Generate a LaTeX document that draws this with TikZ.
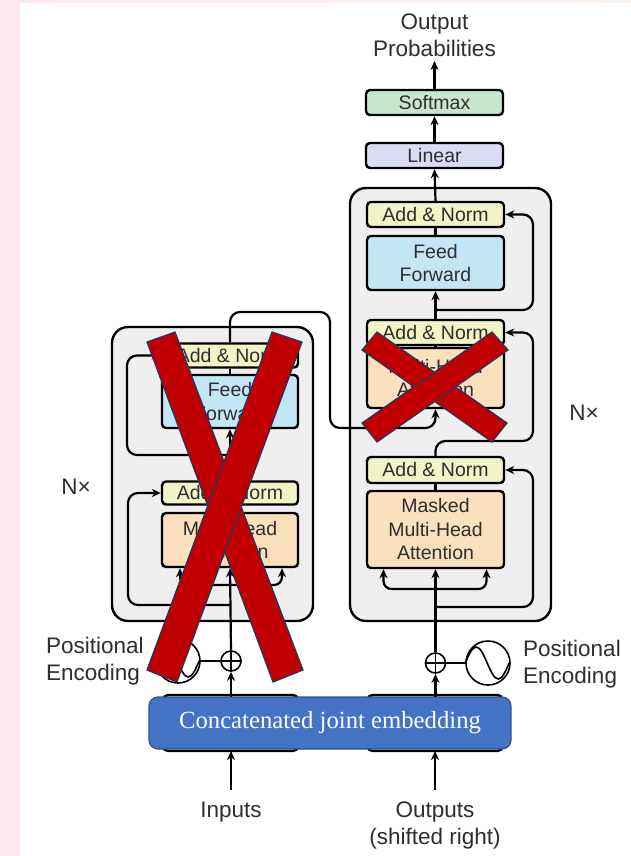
\documentclass[tikz,border=0pt]{standalone}
\usepackage{fontspec}
\setmainfont{Liberation Sans}
\newfontfamily\embfont{Liberation Serif}
\usetikzlibrary{arrows.meta}

\definecolor{txtgray}{HTML}{2E2E2E}
\definecolor{addnormfill}{HTML}{F2F4C6}
\definecolor{fffill}{HTML}{C3E6F4}
\definecolor{mhafill}{HTML}{FAE0BC}
\definecolor{linfill}{HTML}{DADDF2}
\definecolor{smfill}{HTML}{C8E6CD}
\definecolor{stackfill}{HTML}{EFEFEF}
\definecolor{jointblue}{HTML}{4472C4}
\definecolor{jointedge}{HTML}{2F528F}
\definecolor{crossred}{HTML}{C00000}
\definecolor{crossedge}{HTML}{1F3864}
\definecolor{sidepink}{HTML}{FCEAF0}
\definecolor{topcream}{HTML}{FCF3EA}

\newcommand{\boxfont}{\fontsize{19.5}{23.5}\selectfont}
\newcommand{\labfont}{\fontsize{22.5}{27}\selectfont}

\begin{document}
\begin{tikzpicture}[x=1pt,y=-1pt,
  blk/.style={draw=black, line width=2.4pt, rounded corners=4pt,
    minimum width=137pt, inner sep=0pt, align=center,
    text=txtgray, font=\boxfont},
  addnorm/.style={blk, fill=addnormfill, minimum height=25pt},
  ffwd/.style={blk, fill=fffill, minimum height=54pt},
  attn/.style={blk, fill=mhafill},
  stack/.style={draw=black, line width=2.4pt, rounded corners=16pt,
    fill=stackfill, minimum width=201pt, inner sep=0pt},
  embbox/.style={draw=black, line width=2.4pt, rounded corners=5pt,
    minimum width=135pt, minimum height=56pt, inner sep=0pt},
  conn/.style={draw=black, line width=2.2pt},
  arr/.style={conn, -{Stealth[length=9pt,width=8pt]}},
  plusnode/.style={circle, draw=black, line width=1.6pt, minimum size=20pt, inner sep=0pt},
  sinenode/.style={circle, draw=black, line width=1.6pt, minimum size=44pt, inner sep=0pt},
  lab/.style={text=txtgray, font=\labfont, inner sep=0pt},
  crossbar/.style={fill=crossred, draw=crossedge, line width=1.2pt, line join=miter}
]
\useasboundingbox (0,0) rectangle (631,856);

% page background
\fill[white] (0,0) rectangle (631,856);
\fill[sidepink] (0,0) rectangle (20,856);
\shade[left color=sidepink, right color=topcream] (20,0) rectangle (631,3);

% encoder and decoder stacks
\node[stack, minimum height=294pt] (enc) at (212.5,474) {};
\node[stack, minimum height=433pt] (dec) at (450.5,404.5) {};

% decoder blocks
\node[addnorm] (dan3) at (435.5,214.5) {Add \& Norm};
\node[ffwd] (dff) at (435.5,263) {Feed\\Forward};
\node[addnorm] (dan2) at (435.5,332.5) {Add \& Norm};
\node[attn, minimum height=60pt] (dmha) at (435.5,378) {Multi-Head\\Attention};
\node[addnorm, minimum height=26pt] (dan1) at (435.5,470) {Add \& Norm};
\node[attn, minimum height=77pt] (dmmha) at (435.5,529.5) {Masked\\Multi-Head\\Attention};

% output head
\node[blk, fill=linfill, minimum height=25pt] (linear) at (434.5,155.5) {Linear};
\node[blk, fill=smfill, minimum height=25pt] (softmax) at (434.5,102.5) {Softmax};
\node[lab, align=center] (outprob) at (434.5,35.5) {Output\\Probabilities};
\coordinate (outtip) at (434.5,61);

% encoder blocks
\node[addnorm, minimum height=24pt, minimum width=136pt] (ean2) at (230,355.5) {Add \& Norm};
\node[ffwd, minimum height=53pt, minimum width=136pt] (eff) at (230,401.5) {Feed\\Forward};
\node[addnorm, minimum height=23pt, minimum width=136pt] (ean1) at (230,493) {Add \& Norm};
\node[attn, minimum height=54pt, minimum width=136pt] (emha) at (230,540) {Multi-Head\\Attention};

% repeat labels
\node[lab] (encN) at (76,487) {N×};
\node[lab] (decN) at (584,413) {N×};

% positional encodings
\node[plusnode] (eplus) at (231,661) {};
\draw[line width=1.4pt] (eplus.north) -- (eplus.south) (eplus.west) -- (eplus.east);
\node[sinenode] (esin) at (178,661) {};
\draw[line width=1.6pt] (esin.west) sin ++(11,-16) cos ++(11,16) sin ++(11,16) cos ++(11,-16);
\draw[conn] (esin.east) -- (eplus.west);
\node[lab, anchor=west, align=left] (epos) at (46,661) {Positional\\Encoding};

\node[plusnode] (dplus) at (435.5,663) {};
\draw[line width=1.4pt] (dplus.north) -- (dplus.south) (dplus.west) -- (dplus.east);
\node[sinenode] (dsin) at (488,663) {};
\draw[line width=1.6pt] (dsin.west) sin ++(11,-16) cos ++(11,16) sin ++(11,16) cos ++(11,-16);
\draw[conn] (dplus.east) -- (dsin.west);
\node[lab, anchor=west, align=left] (dpos) at (523,664) {Positional\\Encoding};

% embeddings: original boxes with the joint embedding laid over them
\node[embbox] (einemb) at (230.5,723) {};
\node[embbox] (doutemb) at (435,723) {};
\node[draw=jointedge, line width=1.2pt, fill=jointblue, rounded corners=9pt,
  minimum width=362pt, minimum height=52pt, inner sep=0pt,
  text=white, font=\embfont\fontsize{24.7}{28}\selectfont] (joint) at (330,723)
  {Concatenated joint embedding};

% inputs and outputs
\node[lab] (inputs) at (231,812) {Inputs};
\node[lab, align=center] (outputs) at (435,825) {Outputs\\(shifted right)};
\coordinate (intail) at (231,790);
\coordinate (outtail) at (435,790);
\draw[arr] (intail) -- (231,751);
\draw[arr] (outtail) -- (435,751);

% embedding into the stacks
\draw[arr] (231,697) -- (eplus.south);
\draw[arr] (435.5,697) -- (dplus.south);
\draw[arr] (eplus.north) -- (emha.south);
\draw[arr] (dplus.north) -- (dmmha.south);

% encoder attention inputs
\coordinate (esplit) at (230,585);
\draw[arr, rounded corners=8pt] (esplit) -| ([xshift=-50pt]emha.south);
\draw[arr, rounded corners=8pt] (esplit) -| ([xshift=52pt]emha.south);
% encoder internal flow
\draw[conn] (emha.north) -- (ean1.south);
\draw[arr] (ean1.north) -- (eff.south);
\draw[conn] (eff.north) -- (ean2.south);
% encoder residuals
\coordinate (ebr1) at (230,605);
\coordinate (eres1) at (128,605);
\draw[arr, rounded corners=10pt] (ebr1) -- (eres1) |- (ean1.west);
\coordinate (ebr2) at (230,455);
\coordinate (eres2) at (127,455);
\draw[arr, rounded corners=10pt] (ebr2) -- (eres2) |- (ean2.west);

% encoder output into the decoder
\coordinate (eo1) at (330,312);
\coordinate (eo2) at (330,428);
\draw[arr, rounded corners=10pt] (ean2.north) |- (eo1) -- (eo2) -| (dmha.south);

% decoder attention inputs
\coordinate (dsplit) at (435.5,589);
\draw[arr, rounded corners=8pt] (dsplit) -| ([xshift=-52pt]dmmha.south);
\draw[arr, rounded corners=8pt] (dsplit) -| ([xshift=51pt]dmmha.south);
% decoder internal flow
\draw[conn] (dmmha.north) -- (dan1.south);
\draw[conn] (dmha.north) -- (dan2.south);
\draw[arr] (dan2.north) -- (dff.south);
\draw[conn] (dff.north) -- (dan3.south);
\draw[arr] (dan3.north) -- (linear.south);
\draw[arr] (linear.north) -- (softmax.south);
\draw[arr] (softmax.north) -- (outtip);
% decoder residuals
\coordinate (dbr1) at (435.5,607);
\coordinate (dres1) at (533,607);
\draw[arr, rounded corners=10pt] (dbr1) -- (dres1) |- (dan1.east);
\coordinate (dres2) at (533,441);
\draw[arr, rounded corners=10pt] (dan1.north) |- (dres2) |- (dan2.east);
\coordinate (dbr3) at (435.5,310);
\coordinate (dres3) at (533,310);
\draw[arr, rounded corners=10pt] (dbr3) -- (dres3) |- (dan3.east);

% crosses over the removed parts
\filldraw[crossbar] (147,342) -- (175,332) -- (303,670) -- (273,682) -- cycle;
\filldraw[crossbar] (272,332) -- (302,342) -- (177,682) -- (147,670) -- cycle;
\filldraw[crossbar] (362,350) -- (377,332) -- (507,423) -- (492,442) -- cycle;
\filldraw[crossbar] (492,332) -- (508,350) -- (377,442) -- (362,423) -- cycle;
\end{tikzpicture}
\end{document}
